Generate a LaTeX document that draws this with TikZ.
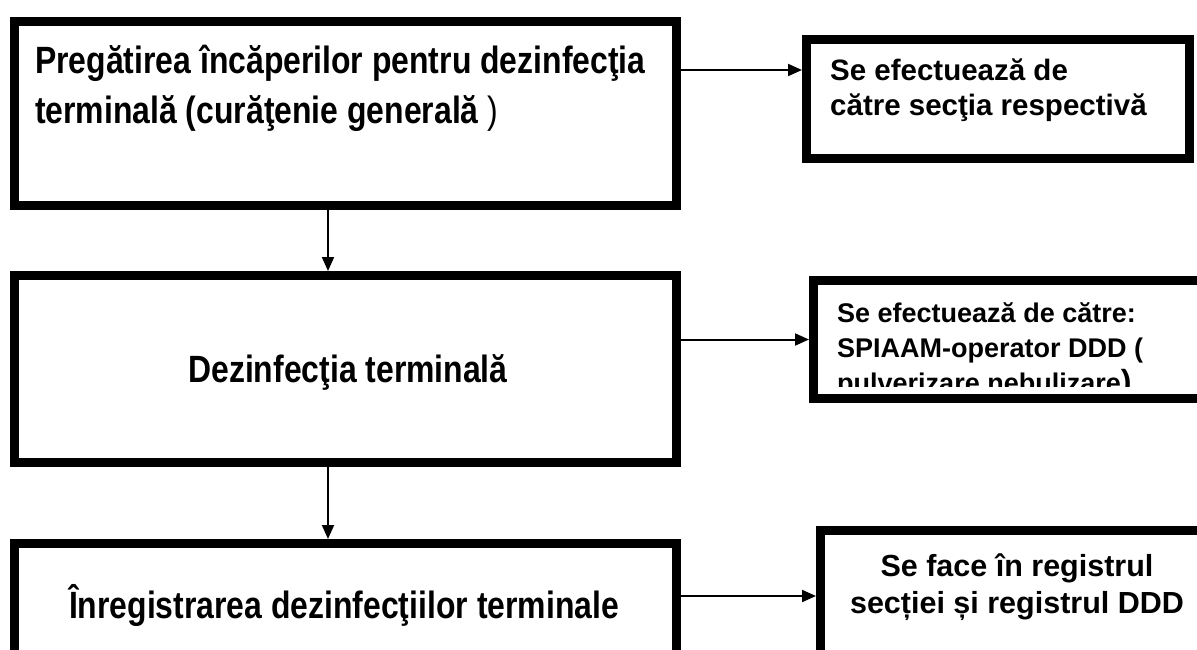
\documentclass[tikz,border=0pt]{standalone}
\usepackage{fontspec}
\setmainfont{Liberation Sans}
\newfontfamily\stagefont[FakeStretch=0.84]{Liberation Sans}
\newfontfamily\notefont{Liberation Sans}
\usetikzlibrary{arrows.meta}
\tikzset{
  stagebox/.style={draw,line width=9pt,inner sep=0pt,minimum width=662pt},
  notebox/.style={draw,line width=9pt,inner sep=0pt},
  stagetext/.style={font=\stagefont\bfseries\fontsize{38}{50}\selectfont,inner sep=0pt},
  notetext/.style={font=\notefont\bfseries\fontsize{27}{35}\selectfont,inner sep=0pt},
  flow/.style={-{Triangle[length=14pt,width=12pt]},line width=2pt}
}

\begin{document}
\begin{tikzpicture}[x=1pt,y=-1pt]
  \useasboundingbox (0,0) rectangle (1197,650);
  \clip (0,0) rectangle (1197,650);
  % stages on the left
  \node[stagebox,minimum height=184pt] (prep) at (345.5,113.5) {};
  \node[stagebox,minimum height=187pt] (dis) at (345.5,369) {};
  \node[stagebox,minimum height=200pt] (reg) at (345.5,643.5) {};
  % notes on the right
  \node[notebox,minimum width=383pt,minimum height=119pt] (byward) at (998,99) {};
  \node[notebox,minimum width=392pt,minimum height=118pt] (byddd) at (1009.5,339.5) {};
  \node[notebox,minimum width=385pt,minimum height=200pt] (inbook) at (1013,630.5) {};
  % texts
  \node[stagetext,align=left,anchor=north west] (prept) at (35,45)
    {Pregătirea încăperilor pentru dezinfecţia\\terminală (curăţenie generală {\mdseries)}};
  \node[stagetext] (dist) at (348,372) {Dezinfecţia terminală};
  \node[stagetext] (regt) at (344,605) {Înregistrarea dezinfecţiilor terminale};
  \node[notetext,font=\notefont\bfseries\fontsize{29.5}{35}\selectfont,align=left,anchor=north west]
    (bywardt) at (830,59) {Se efectuează de\\către secţia respectivă};
  \coordinate (cut) at (0,386);
  \begin{scope}
    \clip (byddd.north west) rectangle (byddd.east |- cut);
    \node[notetext,align=left,anchor=north west] (bydddt) at (837,302)
      {Se efectuează de către:\\SPIAAM-operator DDD (\\pulverizare,nebulizare{\fontsize{32}{35}\selectfont)}};
  \end{scope}
  \node[notetext,font=\notefont\bfseries\fontsize{30.5}{37}\selectfont,align=center]
    (inbookt) at (1017,587) {Se face în registrul\\secției și registrul DDD};
  % connectors
  \coordinate (down) at (328,0);
  \coordinate (side1) at (0,70);
  \coordinate (side3) at (0,596);
  \draw[flow] (prep.south -| down) -- (dis.north -| down);
  \draw[flow] (dis.south -| down) -- (reg.north -| down);
  \draw[flow] (prep.east |- side1) -- (byward.west |- side1);
  \draw[flow] (dis.east |- byddd.west) -- (byddd.west);
  \draw[flow] (reg.east |- side3) -- (inbook.west |- side3);
\end{tikzpicture}
\end{document}
